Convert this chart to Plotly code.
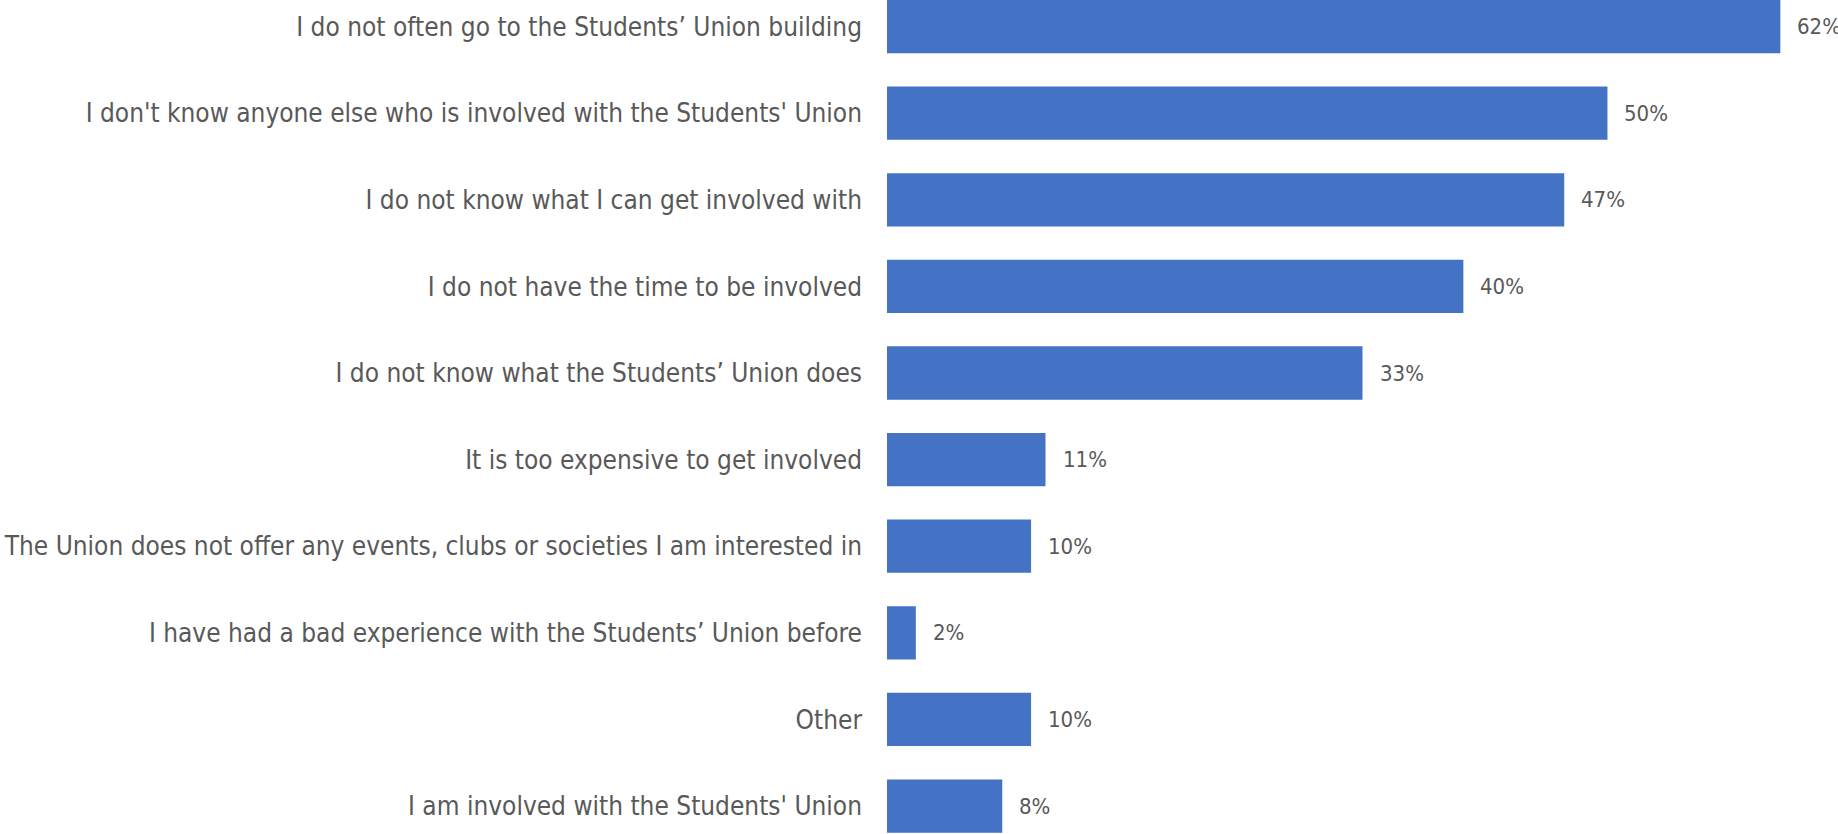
import plotly.graph_objects as go

# Survey responses: reasons for not getting involved with the Students' Union
reasons = [
    "I do not often go to the Students’ Union building",
    "I don't know anyone else who is involved with the Students' Union",
    "I do not know what I can get involved with",
    "I do not have the time to be involved",
    "I do not know what the Students’ Union does",
    "It is too expensive to get involved",
    "The Union does not offer any events, clubs or societies I am interested in",
    "I have had a bad experience with the Students’ Union before",
    "Other",
    "I am involved with the Students' Union",
]
shares = [62, 50, 47, 40, 33, 11, 10, 2, 10, 8]
share_labels = [f"{v}%" for v in shares]

BAR_COLOR = "#4472C4"
TEXT_COLOR = "#595959"
FONT = "DejaVu Sans Condensed, Liberation Sans Narrow, Open Sans, sans-serif"

fig = go.Figure()
fig.add_trace(go.Bar(
    x=shares,
    y=reasons,
    orientation="h",
    marker=dict(color=BAR_COLOR, line=dict(width=0)),
    hoverinfo="skip",
))

# value labels placed just past the end of each bar
for reason, value, label in zip(reasons, shares, share_labels):
    fig.add_annotation(
        x=value,
        y=reason,
        text=label,
        showarrow=False,
        xanchor="left",
        yanchor="middle",
        xshift=15,
        font=dict(family=FONT, size=22, color=TEXT_COLOR),
    )

fig.update_layout(
    width=1838,
    height=834,
    margin=dict(l=887, r=0, t=0, b=0),
    paper_bgcolor="white",
    plot_bgcolor="white",
    showlegend=False,
    bargap=0.385,
    font=dict(family=FONT, color=TEXT_COLOR),
)
fig.update_xaxes(
    range=[0, 66.0],
    visible=False,
    showgrid=False,
    zeroline=False,
)
fig.update_yaxes(
    categoryorder="array",
    categoryarray=reasons,
    range=[9.323, -0.307],
    showgrid=False,
    zeroline=False,
    showline=False,
    ticks="",
    ticklabelstandoff=24,
    tickfont=dict(family=FONT, size=26, color=TEXT_COLOR),
)

fig.write_html("out.html")
